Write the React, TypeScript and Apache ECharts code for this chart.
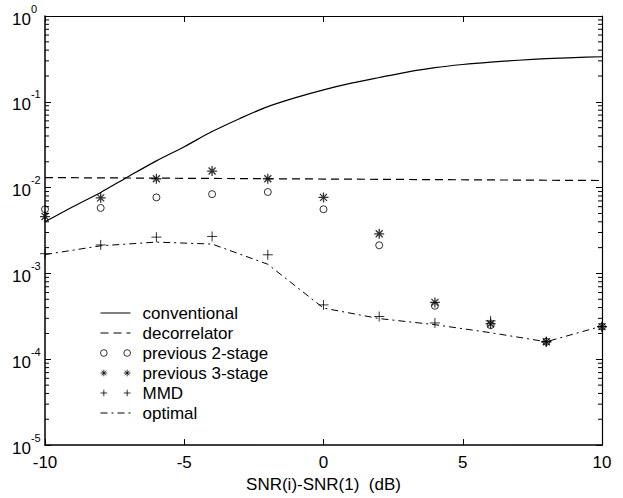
import React, { useEffect, useRef } from 'react';
import * as echarts from 'echarts';

// ---- data ----
const snrEven = [-10, -8, -6, -4, -2, 0, 2, 4, 6, 8, 10];
const snrFine = [-10, -9, -8, -7, -6, -5, -4, -3, -2, -1, 0, 1, 2, 3, 4, 5, 6, 7, 8, 9, 10];

const conventional = [0.004, 0.006, 0.0088, 0.0135, 0.0205, 0.030, 0.045, 0.064, 0.088, 0.112, 0.138,
  0.165, 0.192, 0.222, 0.250, 0.272, 0.290, 0.305, 0.318, 0.328, 0.335];
const decorrelator = [0.0131, 0.013, 0.0129, 0.0128, 0.0127, 0.0126, 0.0125, 0.0124, 0.0123, 0.0122, 0.0121];
const previous2 = [5.6e-3, 5.8e-3, 7.7e-3, 8.4e-3, 8.9e-3, 5.6e-3, 2.13e-3, 4.2e-4, 2.5e-4, 1.6e-4, 2.4e-4];
const previous3 = [4.6e-3, 7.6e-3, 1.27e-2, 1.56e-2, 1.27e-2, 7.7e-3, 2.9e-3, 4.6e-4, 2.6e-4, 1.6e-4, 2.4e-4];
const mmd = [1.7e-3, 2.15e-3, 2.65e-3, 2.7e-3, 1.65e-3, 4.3e-4, 3.15e-4, 2.65e-4, 2.8e-4, 1.6e-4, 2.4e-4];
const optimal = [1.66e-3, 2.1e-3, 2.32e-3, 2.2e-3, 1.28e-3, 3.95e-4, 2.98e-4, 2.53e-4, 2.04e-4, 1.6e-4, 2.44e-4];

const decades = [1e-5, 1e-4, 1e-3, 1e-2, 1e-1];
const mantissas = [2, 3, 4, 5, 6, 7, 8, 9];

const FONT = '"Liberation Sans", Arial, Helvetica, sans-serif';

const STAR = 'path://M5,0L5,10M0,5L10,5M1.5,1.5L8.5,8.5M1.5,8.5L8.5,1.5';
const PLUS = 'path://M5,0L5,10M0,5L10,5';
const CIRCLE = 'path://M0,5a5,5 0 1,0 10,0a5,5 0 1,0 -10,0';
const ICON_CIRCLES = 'path://M0,3a3,3 0 1,0 6,0a3,3 0 1,0 -6,0M21,3a3,3 0 1,0 6,0a3,3 0 1,0 -6,0';
const ICON_STARS = 'path://M3,0L3,6M0,3L6,3M0.9,0.9L5.1,5.1M0.9,5.1L5.1,0.9M24,0L24,6M21,3L27,3M21.9,0.9L26.1,5.1M21.9,5.1L26.1,0.9';
const ICON_PLUS = 'path://M3,0L3,6M0,3L6,3M24,0L24,6M21,3L27,3';

export default function App() {
  const ref = useRef<HTMLDivElement>(null);

  useEffect(() => {
    document.body.style.margin = '0';
    const chart = echarts.init(ref.current as HTMLDivElement, null, { renderer: 'svg' });

    const pairs = (xs: number[], ys: number[]) => xs.map((x, i) => [x, ys[i]]);
    const minorTicks: number[][] = [];
    decades.forEach((d) => mantissas.forEach((m) => minorTicks.push([0, m * d])));

    const markerStyle = { color: 'rgba(0,0,0,0)', borderColor: '#000', borderWidth: 1 };
    const starStyle = { color: 'rgba(0,0,0,0)', borderColor: '#000', borderWidth: 1.3 };
    const legendItemStyle = { color: 'rgba(0,0,0,0)', borderColor: '#000', borderWidth: 1 };
    const hiddenSymbol = { color: 'rgba(0,0,0,0)', borderColor: 'rgba(0,0,0,0)', borderWidth: 0 };

    const axisTick = { show: true, inside: true, length: 6, lineStyle: { color: '#000', width: 1 } };

    const option: any = {
      animation: false,
      backgroundColor: '#fff',
      textStyle: { fontFamily: FONT, color: '#000' },
      grid: { left: 45, right: 21, top: 16, bottom: 47, show: false },
      legend: {
        orient: 'vertical',
        left: 100,
        top: 303,
        padding: 0,
        itemGap: 0,
        itemWidth: 30,
        itemHeight: 20,
        selectedMode: false,
        lineStyle: { width: 1 },
        textStyle: { fontSize: 17, fontFamily: FONT, color: '#000', lineHeight: 20, padding: [0, 0, 0, 7] },
        data: [
          { name: 'conventional', itemStyle: hiddenSymbol },
          { name: 'decorrelator', itemStyle: hiddenSymbol },
          { name: 'previous 2-stage', icon: ICON_CIRCLES, itemStyle: legendItemStyle },
          { name: 'previous 3-stage', icon: ICON_STARS, itemStyle: legendItemStyle },
          { name: 'MMD', icon: ICON_PLUS, itemStyle: legendItemStyle },
          { name: 'optimal', itemStyle: hiddenSymbol },
        ],
      },
      xAxis: [
        {
          type: 'value', min: -10, max: 10, interval: 5, position: 'bottom',
          axisLine: { show: true, onZero: false, lineStyle: { color: '#000', width: 1.5 } },
          axisTick,
          splitLine: { show: false },
          axisLabel: { fontSize: 17, color: '#000', fontFamily: FONT, margin: 9 },
          name: 'SNR(i)-SNR(1)  (dB)',
          nameLocation: 'middle',
          nameGap: 22,
          nameTextStyle: { fontSize: 17, color: '#000', fontFamily: FONT },
        },
        {
          type: 'value', min: -10, max: 10, interval: 5, position: 'top',
          axisLine: { show: true, onZero: false, lineStyle: { color: '#000', width: 1.2 } },
          axisTick,
          splitLine: { show: false },
          axisLabel: { show: false },
        },
      ],
      yAxis: [
        {
          type: 'log', logBase: 10, min: 1e-5, max: 1, splitNumber: 5, position: 'left',
          axisLine: { show: true, onZero: false, lineStyle: { color: '#000', width: 1.5 } },
          axisTick,
          splitLine: { show: false },
          axisLabel: {
            align: 'left',
            margin: 33,
            padding: [6, 0, 0, 0],
            formatter: (v: number) => `{b|10}{s|${Math.round(Math.log10(v))}}`,
            rich: {
              b: { fontSize: 17, fontFamily: FONT, color: '#000', lineHeight: 32 },
              s: { fontSize: 11, fontFamily: FONT, color: '#000', lineHeight: 12, verticalAlign: 'top' },
            },
          },
        },
        {
          type: 'log', logBase: 10, min: 1e-5, max: 1, splitNumber: 5, position: 'right',
          axisLine: { show: true, onZero: false, lineStyle: { color: '#000', width: 1.2 } },
          axisTick,
          splitLine: { show: false },
          axisLabel: { show: false },
        },
      ],
      series: [
        {
          type: 'custom',
          silent: true,
          renderItem: (params: any, api: any) => {
            const v = api.value(1);
            const l = api.coord([-10, v]);
            const r = api.coord([10, v]);
            return {
              type: 'group',
              children: [
                { type: 'line', shape: { x1: l[0], y1: l[1], x2: l[0] + 4, y2: l[1] }, style: { stroke: '#000', lineWidth: 1 } },
                { type: 'line', shape: { x1: r[0] - 4, y1: r[1], x2: r[0], y2: r[1] }, style: { stroke: '#000', lineWidth: 1 } },
              ],
            };
          },
          data: minorTicks,
          z: 1,
        },
        {
          name: 'conventional', type: 'line', data: pairs(snrFine, conventional),
          symbol: 'none', smooth: 0.3, silent: true,
          lineStyle: { color: '#000', width: 1.2, type: 'solid' },
          itemStyle: { color: '#000' },
        },
        {
          name: 'decorrelator', type: 'line', data: pairs(snrEven, decorrelator),
          symbol: 'none', silent: true,
          lineStyle: { color: '#000', width: 1.2, type: [8, 5] },
          itemStyle: { color: '#000' },
        },
        {
          name: 'previous 2-stage', type: 'scatter', data: pairs(snrEven, previous2),
          symbol: CIRCLE, symbolSize: 7, symbolKeepAspect: true, silent: true,
          itemStyle: markerStyle,
        },
        {
          name: 'previous 3-stage', type: 'scatter', data: pairs(snrEven, previous3),
          symbol: STAR, symbolSize: 10, symbolKeepAspect: true, silent: true,
          itemStyle: starStyle,
        },
        {
          name: 'MMD', type: 'scatter', data: pairs(snrEven, mmd),
          symbol: PLUS, symbolSize: 10, symbolKeepAspect: true, silent: true,
          itemStyle: markerStyle,
        },
        {
          name: 'optimal', type: 'line', data: pairs(snrEven, optimal),
          symbol: 'none', silent: true,
          lineStyle: { color: '#000', width: 1, type: [7, 4, 2, 4] },
          itemStyle: { color: '#000' },
        },
      ],
    };

    chart.setOption(option);
    return () => chart.dispose();
  }, []);

  return <div ref={ref} style={{ width: 623, height: 498 }} />;
}
